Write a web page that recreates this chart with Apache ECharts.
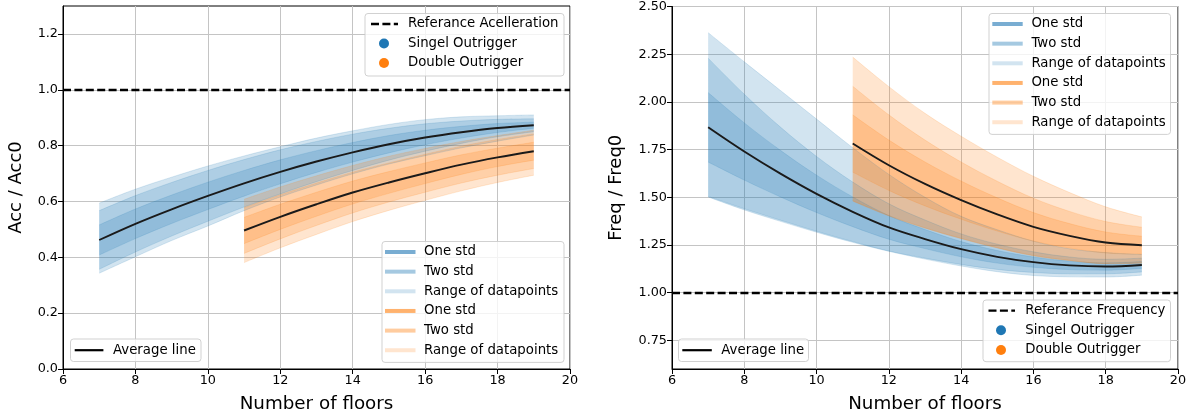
<!DOCTYPE html>
<html>
<head>
<meta charset="utf-8">
<title>Outrigger response vs. number of floors</title>
<script src="https://cdn.jsdelivr.net/npm/echarts@6/dist/echarts.min.js"></script>
<style>
  html, body { margin: 0; padding: 0; background: #fff; }
  #chart { width: 1195px; height: 419px; }
</style>
</head>
<body>
<div id="chart"></div>
<script>
// ---- data ---------------------------------------------------------------
const FLOORS_SINGLE = [7, 8, 9, 10, 11, 12, 13, 14, 15, 16, 17, 18, 19];
const FLOORS_DOUBLE = [11, 12, 13, 14, 15, 16, 17, 18, 19];

// Acceleration ratio, single outrigger
const ACC_S_MEAN = [0.462, 0.520, 0.572, 0.620, 0.665, 0.706, 0.743, 0.776, 0.805, 0.829, 0.848, 0.863, 0.873];
const ACC_S_STD1 = [0.054, 0.053, 0.051, 0.049, 0.046, 0.043, 0.039, 0.035, 0.031, 0.026, 0.021, 0.016, 0.011];
const ACC_S_STD2 = [0.105, 0.101, 0.096, 0.091, 0.085, 0.079, 0.072, 0.065, 0.057, 0.049, 0.040, 0.031, 0.023];
const ACC_S_MIN  = [0.343, 0.402, 0.460, 0.512, 0.567, 0.616, 0.659, 0.699, 0.734, 0.764, 0.792, 0.816, 0.838];
const ACC_S_MAX  = [0.594, 0.644, 0.687, 0.727, 0.763, 0.796, 0.827, 0.853, 0.876, 0.893, 0.903, 0.907, 0.910];

// Acceleration ratio, double outrigger
const ACC_D_MEAN = [0.496, 0.545, 0.590, 0.632, 0.668, 0.701, 0.732, 0.758, 0.780];
const ACC_D_STD1 = [0.047, 0.045, 0.043, 0.041, 0.039, 0.037, 0.035, 0.033, 0.032];
const ACC_D_STD2 = [0.082, 0.079, 0.076, 0.073, 0.070, 0.068, 0.066, 0.064, 0.062];
const ACC_D_MIN  = [0.381, 0.434, 0.482, 0.528, 0.568, 0.604, 0.638, 0.668, 0.694];
const ACC_D_MAX  = [0.608, 0.652, 0.692, 0.729, 0.762, 0.790, 0.815, 0.836, 0.855];

// Frequency ratio, single outrigger
const FRQ_S_MEAN = [1.867, 1.740, 1.624, 1.518, 1.424, 1.342, 1.281, 1.228, 1.188, 1.160, 1.143, 1.137, 1.145];
const FRQ_S_STD1 = [0.182, 0.150, 0.122, 0.098, 0.078, 0.062, 0.050, 0.040, 0.033, 0.027, 0.022, 0.019, 0.018];
const FRQ_S_STD2 = [0.362, 0.300, 0.244, 0.196, 0.156, 0.124, 0.100, 0.080, 0.066, 0.054, 0.044, 0.038, 0.036];
const FRQ_S_MIN  = [1.502, 1.434, 1.374, 1.317, 1.264, 1.217, 1.176, 1.140, 1.110, 1.090, 1.083, 1.082, 1.092];
const FRQ_S_MAX  = [2.363, 2.210, 2.060, 1.910, 1.760, 1.620, 1.500, 1.400, 1.330, 1.270, 1.230, 1.210, 1.200];

// Frequency ratio, double outrigger
const FRQ_D_MEAN = [1.782, 1.668, 1.570, 1.485, 1.410, 1.345, 1.298, 1.263, 1.249];
const FRQ_D_STD1 = [0.150, 0.132, 0.115, 0.100, 0.087, 0.075, 0.064, 0.055, 0.047];
const FRQ_D_STD2 = [0.300, 0.264, 0.230, 0.200, 0.174, 0.150, 0.128, 0.110, 0.094];
const FRQ_D_MIN  = [1.480, 1.402, 1.338, 1.283, 1.234, 1.193, 1.168, 1.152, 1.154];
const FRQ_D_MAX  = [2.235, 2.080, 1.940, 1.820, 1.710, 1.610, 1.525, 1.450, 1.397];

const REF_ACC = 1.0;
const REF_FRQ = 1.0;

const X_TICKS   = [6, 8, 10, 12, 14, 16, 18, 20];
const ACC_TICKS = [0.0, 0.2, 0.4, 0.6, 0.8, 1.0, 1.2];
const FRQ_TICKS = [0.75, 1.00, 1.25, 1.50, 1.75, 2.00, 2.25, 2.50];

// ---- styling --------------------------------------------------------------
const FONT = '"DejaVu Sans", "Liberation Sans", sans-serif';
const BLUE = [31, 119, 180];
const ORANGE = [255, 127, 14];
const rgba = (c, a) => `rgba(${c[0]},${c[1]},${c[2]},${a})`;
const A_RANGE = 0.2, A_TWO = 0.2, A_ONE = 0.2;
const SMOOTH = 0.35;
const REF_DASH = [8, 3.4];

// A filled band between lo and hi, built as a stacked pair of line series.
// Points are stored as [value, floors] with the value first, so the stack
// accumulates along y (both axes are numeric).
function band(id, xs, lo, hi, color, alpha, gi) {
  const edge = { width: 0.8, color: rgba(color, alpha) };
  const base = {
    id: id + '_base', type: 'line', stack: id, xAxisIndex: gi, yAxisIndex: gi,
    encode: { x: 1, y: 0 },
    smooth: SMOOTH, symbol: 'none', silent: true, lineStyle: edge,
    data: xs.map((x, i) => [lo[i], x])
  };
  const top = {
    id: id + '_top', type: 'line', stack: id, xAxisIndex: gi, yAxisIndex: gi,
    encode: { x: 1, y: 0 },
    smooth: SMOOTH, symbol: 'none', silent: true, lineStyle: edge,
    areaStyle: { color: rgba(color, alpha), opacity: 1 },
    data: xs.map((x, i) => [hi[i] - lo[i], x])
  };
  return [base, top];
}

function groupBands(prefix, xs, mean, s1, s2, mn, mx, color, gi) {
  return [
    ...band(prefix + '_range', xs, mn, mx, color, A_RANGE, gi),
    ...band(prefix + '_two', xs, mean.map((m, i) => m - s2[i]), mean.map((m, i) => m + s2[i]), color, A_TWO, gi),
    ...band(prefix + '_one', xs, mean.map((m, i) => m - s1[i]), mean.map((m, i) => m + s1[i]), color, A_ONE, gi)
  ];
}

function meanLine(id, xs, mean, gi) {
  return {
    id, type: 'line', xAxisIndex: gi, yAxisIndex: gi, smooth: SMOOTH, symbol: 'none', silent: true,
    lineStyle: { width: 1.9, color: '#1a1a1a' }, z: 5,
    data: xs.map((x, i) => [x, mean[i]])
  };
}

function refLine(id, level, gi) {
  return {
    id, type: 'line', xAxisIndex: gi, yAxisIndex: gi, data: [], silent: true, z: 5,
    markLine: {
      silent: true, symbol: ['none', 'none'], label: { show: false },
      lineStyle: { color: '#000', width: 2.3, type: REF_DASH },
      emphasis: { disabled: true },
      data: [{ yAxis: level }]
    }
  };
}

function xAxisCfg(gi) {
  return {
    gridIndex: gi, type: 'value', min: 6, max: 20, interval: 2,
    name: 'Number of floors', nameLocation: 'middle', nameGap: 26,
    nameTextStyle: { fontFamily: FONT, fontSize: 18.3, color: '#000' },
    axisLine: { show: true, onZero: false, lineStyle: { color: '#000', width: 1 } },
    axisTick: { show: true, length: 5, lineStyle: { color: '#000', width: 1 }, customValues: X_TICKS },
    axisLabel: { fontFamily: FONT, fontSize: 12.8, color: '#000', margin: 5, customValues: X_TICKS },
    splitLine: { show: true, lineStyle: { color: '#c4c4c4', width: 1 } }
  };
}

function yAxisCfg(gi, name, gap, min, max, interval, ticks, digits) {
  return {
    gridIndex: gi, type: 'value', min, max, interval,
    name, nameLocation: 'middle', nameGap: gap,
    nameTextStyle: { fontFamily: FONT, fontSize: 18, color: '#000' },
    axisLine: { show: true, onZero: false, lineStyle: { color: '#000', width: 1 } },
    axisTick: { show: true, length: 5, lineStyle: { color: '#000', width: 1 }, customValues: ticks },
    axisLabel: { fontFamily: FONT, fontSize: 12.8, color: '#000', margin: 5,
                 customValues: ticks, formatter: v => Number(v).toFixed(digits) },
    splitLine: { show: true, lineStyle: { color: '#c4c4c4', width: 1 } }
  };
}

// ---- legends drawn as graphic elements ---------------------------------
const LEG_FONT = '13.3px ' + FONT;
function legendFrame(x, y, w, h) {
  return { type: 'rect', z: 100, shape: { x, y, width: w, height: h, r: 3 },
           style: { fill: 'rgba(255,255,255,0.8)', stroke: 'rgba(204,204,204,0.9)', lineWidth: 1 } };
}
function legendLine(x1, x2, y, stroke, width, dash) {
  return { type: 'line', z: 101, shape: { x1, y1: y, x2, y2: y },
           style: { stroke, lineWidth: width, lineDash: dash || null } };
}
function legendDot(cx, cy, fill) {
  return { type: 'circle', z: 101, shape: { cx, cy, r: 5 }, style: { fill } };
}
function legendText(x, y, text) {
  return { type: 'text', z: 101, x, y,
           style: { text, font: LEG_FONT, fill: '#000', verticalAlign: 'middle', align: 'left' } };
}
function bandLegend(x, y, w, rows, hx1, hx2, tx) {
  const items = [legendFrame(x, y, w, rows.length * 19.65 + 3)];
  rows.forEach((r, i) => {
    const cy = y + 10.5 + i * 19.65;
    items.push(legendLine(hx1, hx2, cy, r.color, 4));
    items.push(legendText(tx, cy, r.label));
  });
  return items;
}
const bandRows = [
  { label: 'One std', color: rgba(BLUE, 0.6) },
  { label: 'Two std', color: rgba(BLUE, 0.4) },
  { label: 'Range of datapoints', color: rgba(BLUE, 0.2) },
  { label: 'One std', color: rgba(ORANGE, 0.6) },
  { label: 'Two std', color: rgba(ORANGE, 0.4) },
  { label: 'Range of datapoints', color: rgba(ORANGE, 0.2) }
];

const graphics = [
  // left panel: reference + outrigger types
  legendFrame(365, 13.5, 199, 62.5),
  legendLine(371, 398, 24, '#000', 2.3, REF_DASH),
  legendText(408, 24, 'Referance Acelleration'),
  legendDot(384, 43.5, '#1f77b4'),
  legendText(408, 43.5, 'Singel Outrigger'),
  legendDot(384, 63, '#ff7f0e'),
  legendText(408, 63, 'Double Outrigger'),
  // left panel: bands
  ...bandLegend(382, 241.5, 182, bandRows, 385, 415.5, 424),
  // left panel: average line
  legendFrame(70.5, 339, 130.5, 22.5),
  legendLine(74.7, 103.4, 350.2, '#000', 2.2),
  legendText(113, 350.2, 'Average line'),
  // right panel: bands
  ...bandLegend(989, 13.5, 181.5, bandRows, 992.3, 1022.7, 1031.4),
  // right panel: reference + outrigger types
  legendFrame(983, 300, 187.5, 61.7),
  legendLine(988.5, 1015, 310.7, '#000', 2.3, REF_DASH),
  legendText(1025.3, 310.7, 'Referance Frequency'),
  legendDot(1001, 330.2, '#1f77b4'),
  legendText(1025.3, 330.2, 'Singel Outrigger'),
  legendDot(1001, 350, '#ff7f0e'),
  legendText(1025.3, 350, 'Double Outrigger'),
  // right panel: average line
  legendFrame(678.5, 339, 130, 22.5),
  legendLine(682.3, 711.8, 350.2, '#000', 2.2),
  legendText(721.3, 350.2, 'Average line')
];

const option = {
  animation: false,
  backgroundColor: '#fff',
  textStyle: { fontFamily: FONT },
  grid: [
    { left: 63, top: 6, width: 507, height: 363, show: true, borderColor: '#000', borderWidth: 1, backgroundColor: 'transparent' },
    { left: 672, top: 6, width: 506, height: 363, show: true, borderColor: '#000', borderWidth: 1, backgroundColor: 'transparent' }
  ],
  xAxis: [xAxisCfg(0), xAxisCfg(1)],
  yAxis: [
    yAxisCfg(0, 'Acc / Acc0', 38, 0, 1.3, 0.2, ACC_TICKS, 1),
    yAxisCfg(1, 'Freq / Freq0', 47, 0.6, 2.5, 0.25, FRQ_TICKS, 2)
  ],
  series: [
    ...groupBands('accS', FLOORS_SINGLE, ACC_S_MEAN, ACC_S_STD1, ACC_S_STD2, ACC_S_MIN, ACC_S_MAX, BLUE, 0),
    ...groupBands('accD', FLOORS_DOUBLE, ACC_D_MEAN, ACC_D_STD1, ACC_D_STD2, ACC_D_MIN, ACC_D_MAX, ORANGE, 0),
    meanLine('accS_mean', FLOORS_SINGLE, ACC_S_MEAN, 0),
    meanLine('accD_mean', FLOORS_DOUBLE, ACC_D_MEAN, 0),
    refLine('accRef', REF_ACC, 0),
    ...groupBands('frqS', FLOORS_SINGLE, FRQ_S_MEAN, FRQ_S_STD1, FRQ_S_STD2, FRQ_S_MIN, FRQ_S_MAX, BLUE, 1),
    ...groupBands('frqD', FLOORS_DOUBLE, FRQ_D_MEAN, FRQ_D_STD1, FRQ_D_STD2, FRQ_D_MIN, FRQ_D_MAX, ORANGE, 1),
    meanLine('frqS_mean', FLOORS_SINGLE, FRQ_S_MEAN, 1),
    meanLine('frqD_mean', FLOORS_DOUBLE, FRQ_D_MEAN, 1),
    refLine('frqRef', REF_FRQ, 1)
  ],
  graphic: graphics
};

const chart = echarts.init(document.getElementById('chart'), null, { renderer: 'canvas' });
chart.setOption(option);
</script>
</body>
</html>
